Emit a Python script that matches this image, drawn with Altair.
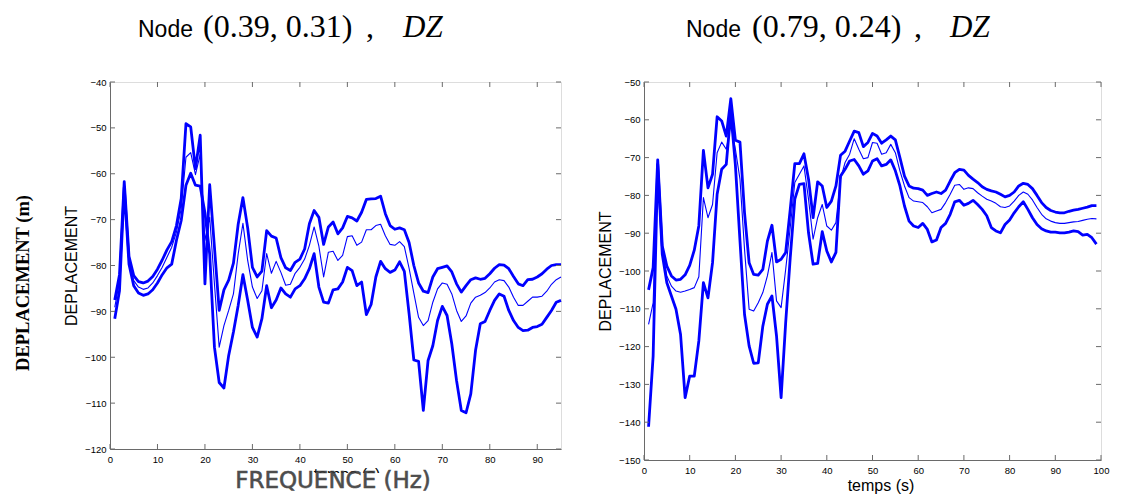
import altair as alt
import pandas as pd

# ---------------- data ----------------
FREQ_LEFT = list(range(1, 96))
LEFT_UPPER = [-87.5, -82, -61.7, -78, -82.2, -83.5, -83.8, -83.4, -82.4, -80.8,
              -78.8, -76.6, -74.8, -71.3, -65.4, -49.1, -49.8, -58.9, -51.6, -84,
              -62.4, -76, -89.8, -85.3, -83.2, -79.5, -71, -65.2, -71.8, -80.4,
              -82.5, -81.2, -72.4, -73.6, -74, -78.3, -80.5, -81.1, -79.3, -78.6,
              -76.4, -70.9, -68, -69.5, -75.4, -71.6, -70.5, -73.1, -71.8, -69.3,
              -69.6, -70.3, -68.4, -65.6, -65.5, -65.4, -64.9, -68.7, -71.3, -72.1,
              -71.8, -72.2, -75, -80, -83.8, -85.6, -85.9, -82.5, -80.7, -80.4,
              -80.1, -81.4, -84, -85.8, -84.4, -83.1, -82.7, -83, -82.8, -81.8,
              -80.6, -79.8, -79.9, -80.7, -82.4, -84, -84.4, -83.1, -83, -82.5,
              -81.8, -80.8, -80, -79.8, -79.8]
LEFT_MID = [-89.1, -83.5, -62.2, -79, -83.3, -84.7, -85.2, -84.9, -83.8, -82.2,
            -80.4, -78.2, -76, -72.7, -67.6, -56.4, -55.4, -60.2, -55.8, -74.5,
            -69.5, -84, -97.8, -93.1, -89.8, -86.2, -77.5, -70.8, -78.9, -84.7,
            -87.2, -85.5, -77.4, -81.7, -79.1, -81.5, -84.3, -84.1, -81.7, -80.4,
            -78.6, -75.6, -71.6, -75.8, -82.5, -77.1, -76.9, -78.9, -77.8, -73.7,
            -73.5, -75.6, -74.9, -72.2, -72.2, -71.3, -71, -73.5, -75.4, -75.6,
            -74.8, -75.9, -80.6, -86, -91.3, -93.1, -92, -88, -85.1, -83.8,
            -84.1, -86.2, -89.8, -92.2, -91, -88.2, -86.9, -86.5, -85.9, -84.9,
            -83.6, -83.1, -83.3, -84.7, -86.9, -88.7, -88.7, -87.8, -86.9, -86.9,
            -86.7, -85.6, -84.1, -83.1, -82.5]
LEFT_LOWER = [-91.6, -85.5, -63, -79.7, -84.4, -86, -86.5, -86.2, -85.3, -83.8,
              -82, -80.5, -79.7, -74.5, -70.2, -62.5, -59.9, -62.5, -62.7, -68.5,
              -77.5, -97.8, -105.5, -106.7, -99.6, -94.5, -88.7, -82, -87.6, -93.5,
              -95.6, -91.6, -84.4, -89.2, -87.5, -84.9, -86.2, -86.9, -85.1, -84.4,
              -82.9, -80.7, -77.4, -84.7, -88, -88.2, -85.3, -85.1, -83.6, -80.4,
              -81.1, -84.4, -83.6, -90.7, -88.5, -82.5, -79.1, -80.7, -81.5, -81,
              -79.2, -81.3, -90.5, -100.6, -100.9, -111.6, -100.7, -97.5, -92, -88.9,
              -90.9, -97.1, -105.1, -111.6, -112.1, -108, -98.5, -92.7, -92.2, -89.8,
              -87.6, -86.2, -86.7, -89.8, -92, -93.5, -94.2, -94.1, -93.5, -93.3,
              -92.8, -91.3, -89.8, -88, -87.6]

TIME_RIGHT = list(range(1, 100))
RIGHT_UPPER = [-105, -99.1, -70.6, -93.4, -98.7, -101.3, -102.4, -102.2, -101, -98.5,
               -94.5, -88, -68.1, -78, -74.4, -59.2, -60.3, -64.3, -54.4, -65.4,
               -65.9, -84.6, -97.8, -100.9, -101.1, -99.6, -92.1, -87.9, -97.6, -96.9,
               -95.1, -83.7, -71.6, -71.6, -69, -75.7, -85.9, -76.4, -77.5, -83.2,
               -81.5, -77.5, -69.4, -68.3, -65.6, -63, -63.4, -67.1, -66, -63.6,
               -64.3, -66.2, -65.3, -64.3, -65.3, -70, -74.9, -77.5, -78.1, -78.2,
               -78.6, -80, -79.5, -79.1, -79.5, -78.6, -76.2, -74, -73.1, -73.3,
               -74.7, -75.7, -76.6, -77.7, -78.4, -78.8, -79.1, -79.7, -80.4, -80,
               -79.1, -77.5, -76.8, -77.1, -78.2, -80, -81.9, -83.2, -84, -84.4,
               -84.6, -84.6, -84.2, -83.9, -83.7, -83.4, -83.1, -82.7, -82.7]
RIGHT_MID = [-114.1, -108.4, -72.2, -94.3, -101.3, -104, -105.3, -105.6, -105.3, -104.9,
             -104.4, -101.5, -80.6, -85.9, -82.4, -68.7, -65.9, -67.8, -61.2, -67.8,
             -75.7, -94.3, -110.1, -110.6, -108.4, -105.7, -101.3, -95.1, -107.9, -109.7,
             -99.6, -88.5, -76.6, -74.4, -72.2, -81, -91.6, -85.9, -82.4, -88.1,
             -89.2, -87.2, -75.7, -71.3, -69.1, -65, -67.8, -70.3, -70, -66,
             -66.2, -69.1, -68.7, -66.5, -68.7, -73.5, -77.5, -80.6, -81.5, -81.7,
             -81.9, -83, -84.6, -84.1, -83.7, -81.9, -79.7, -77.3, -77.1, -78.4,
             -78, -78.2, -79.3, -80.2, -81, -81.5, -82.1, -83, -83.2, -82.8,
             -81.5, -80, -79.1, -79.7, -81.2, -83.2, -85, -86.2, -86.8, -87.2,
             -87.4, -87.4, -87.2, -87, -86.9, -86.6, -86.3, -86.1, -86.2]
RIGHT_LOWER = [-141.2, -122.5, -71.8, -95.6, -103.1, -106.6, -110.1, -116.8, -133.5, -127.8,
               -127.8, -118.5, -103.1, -107.1, -97.8, -79.7, -73.1, -71.8, -58, -72,
               -92, -111.5, -119.8, -124.4, -124.3, -114.6, -108.8, -106.6, -117.2, -133.5,
               -113.7, -96.5, -81, -77.1, -76.9, -89.9, -98.2, -98, -89.6, -94.7,
               -97.6, -95.1, -74.9, -73.1, -70.9, -70.5, -72.2, -74.4, -73.5, -70.9,
               -70.3, -72.2, -71.8, -70.6, -73.5, -77.5, -82.8, -86.8, -88.1, -88.5,
               -87.4, -89, -92.3, -91.8, -88.5, -87.4, -85, -81.7, -81.3, -82.6,
               -82.1, -81.3, -82.4, -83.7, -85.4, -88.5, -89.4, -89.9, -87.7, -86.5,
               -84.6, -83, -81.7, -83.7, -85.9, -87.7, -88.8, -89.4, -89.7, -89.7,
               -89.9, -89.9, -89.7, -89.4, -89.6, -90.5, -90.3, -91.2, -92.9]

LEFT_X_TICKS = [0, 10, 20, 30, 40, 50, 60, 70, 80, 90]
LEFT_Y_TICKS = [-120, -110, -100, -90, -80, -70, -60, -50, -40]
RIGHT_X_TICKS = [0, 10, 20, 30, 40, 50, 60, 70, 80, 90, 100]
RIGHT_Y_TICKS = [-150, -140, -130, -120, -110, -100, -90, -80, -70, -60, -50]

LEFT_TITLE = ["Node", "(0.39, 0.31)", ",", "DZ"]
RIGHT_TITLE = ["Node", "(0.79, 0.24)", ",", "DZ"]
Y_TITLE = "DEPLACEMENT"
X_TITLE = "temps (s)"
SIDE_LABEL = "DEPLACEMENT (m)"
FREQ_LABEL = "FREQUENCE (Hz)"

BLUE = "#0000ff"
GREY = "#6a6a6a"


def txt(label, **mark):
    return alt.Chart(pd.DataFrame({"label": [label]})).mark_text(**mark)


def panel(xs, up, mid, lo, xdom, ydom, xt, yt, w, h, title, title_x):
    xs_ = alt.Scale(domain=xdom, nice=False, zero=False)
    ys_ = alt.Scale(domain=ydom, nice=False, zero=False)
    xa = alt.Axis(values=xt, ticks=False, grid=False, title=None,
                  labelFont="Liberation Sans", labelFontSize=9.5, labelColor="black",
                  labelPadding=5, labelAngle=0, domainColor=GREY, labelFlush=False)
    ya = alt.Axis(values=yt, ticks=False, grid=False, title=Y_TITLE,
                  labelFont="Liberation Sans", labelFontSize=9.5, labelColor="black",
                  labelPadding=4, domainColor=GREY, labelFlush=False,
                  titleFont="Liberation Sans", titleFontSize=16,
                  titleFontWeight="normal", titleColor="black", titlePadding=5)
    X = alt.X("x:Q", scale=xs_, axis=xa)
    Y = alt.Y("y:Q", scale=ys_, axis=ya)

    def line(vals, sw):
        return alt.Chart(pd.DataFrame({"x": xs, "y": vals})).mark_line(
            color=BLUE, strokeWidth=sw, strokeJoin="round"
        ).encode(x=X, y=Y)

    dx = pd.DataFrame({"x": xt})
    dy = pd.DataFrame({"y": yt})
    tb = alt.Chart(dx).mark_rule(color=GREY).encode(x=X, y=alt.value(h), y2=alt.value(h - 5))
    tt = alt.Chart(dx).mark_rule(color=GREY).encode(x=X, y=alt.value(0), y2=alt.value(5))
    tl = alt.Chart(dy).mark_rule(color=GREY).encode(y=Y, x=alt.value(0), x2=alt.value(5))
    tr = alt.Chart(dy).mark_rule(color=GREY).encode(y=Y, x=alt.value(w - 5), x2=alt.value(w))

    base_y = -45
    t1 = txt(title[0], font="Liberation Sans", fontSize=23, align="left",
             baseline="alphabetic", color="black").encode(
        x=alt.value(title_x[0]), y=alt.value(base_y), text="label:N")
    t2 = txt(title[1], font="Liberation Serif", fontSize=32, align="left",
             baseline="alphabetic", color="black").encode(
        x=alt.value(title_x[1]), y=alt.value(base_y), text="label:N")
    t3 = txt(title[2], font="Liberation Serif", fontSize=32, align="left",
             baseline="alphabetic", color="black").encode(
        x=alt.value(title_x[2]), y=alt.value(base_y), text="label:N")
    t4 = txt(title[3], font="Liberation Serif", fontSize=31, fontStyle="italic",
             align="left", baseline="alphabetic", color="black").encode(
        x=alt.value(title_x[3]), y=alt.value(base_y), text="label:N")
    xt_label = txt(X_TITLE, font="Liberation Sans", fontSize=16, align="center",
                   baseline="alphabetic", color="black").encode(
        x=alt.value(237), y=alt.value(h + 31), text="label:N")

    layers = [line(up, 2.8), line(mid, 1.1), line(lo, 2.8), tb, tt, tl, tr,
              t1, t2, t3, t4, xt_label]
    return layers


left_layers = panel(FREQ_LEFT, LEFT_UPPER, LEFT_MID, LEFT_LOWER, [0, 95], [-120, -40],
                    LEFT_X_TICKS, LEFT_Y_TICKS, 451, 367, LEFT_TITLE, [28, 93, 256, 293])
# white band that hides the lower half of the left "temps (s)" label, then the overlay label
mask = alt.Chart(pd.DataFrame({"label": ["mask"]})).mark_rect(color="white").encode(
    x=alt.value(150), x2=alt.value(330), y=alt.value(367 + 24), y2=alt.value(367 + 44))
freq = txt(FREQ_LABEL, font="DejaVu Sans", fontWeight="normal", fontSize=23,
           align="center", baseline="alphabetic", color="#3a3a3a", stroke="#3a3a3a",
           strokeWidth=0.6, opacity=0.9).encode(
    x=alt.value(223), y=alt.value(367 + 39), text="label:N")
side = txt(SIDE_LABEL, font="Liberation Serif", fontWeight="bold", fontSize=18.5,
           angle=270, align="center", baseline="middle", color="black").encode(
    x=alt.value(-87), y=alt.value(201), text="label:N")
left = alt.layer(*left_layers, mask, freq, side).properties(width=451, height=367)

right_layers = panel(TIME_RIGHT, RIGHT_UPPER, RIGHT_MID, RIGHT_LOWER, [0, 100], [-150, -50],
                     RIGHT_X_TICKS, RIGHT_Y_TICKS, 457, 378, RIGHT_TITLE, [42, 108, 270, 306])
right = alt.layer(*right_layers).properties(width=457, height=378)

chart = alt.hconcat(left, right, spacing=34).properties(
    padding={"left": 5, "top": 2, "right": 5, "bottom": 0}
).configure_view(stroke=GREY, strokeWidth=1).configure(background="white")

chart.save("out.html", embed_options={"renderer": "svg", "actions": False})
